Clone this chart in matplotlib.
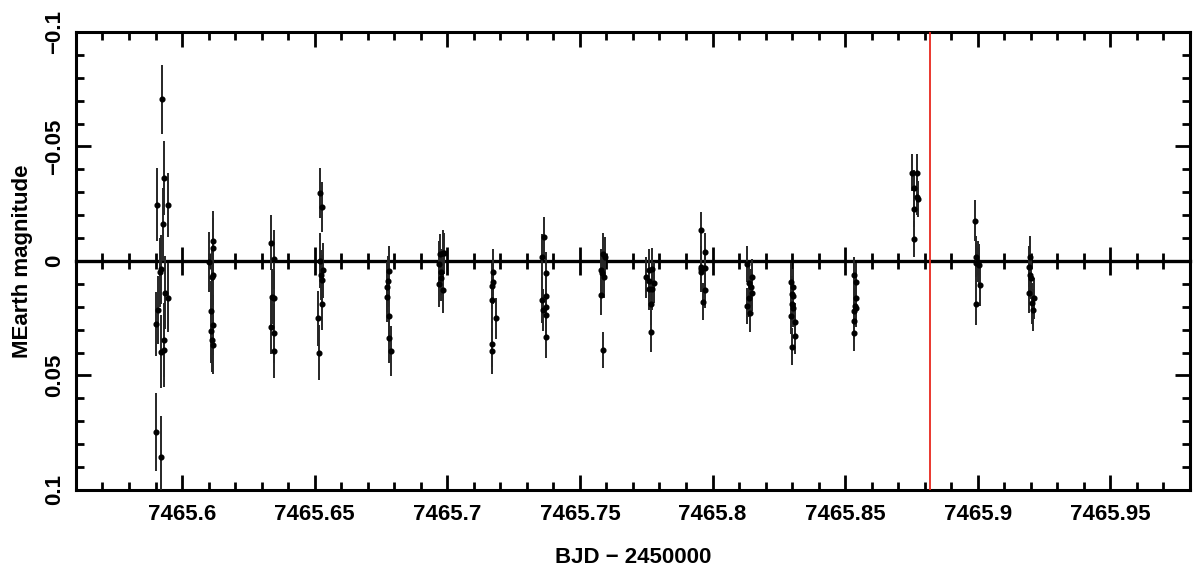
import matplotlib
matplotlib.use("Agg")
import matplotlib.pyplot as plt
from matplotlib.ticker import MultipleLocator, NullFormatter, FuncFormatter

plt.rcParams['font.family'] = ['Liberation Sans', 'DejaVu Sans']
plt.rcParams['font.weight'] = 'bold'

# MEarth light curve, one list entry per frame (grouped by visit)
bjd = [7465.5926, 7465.5905, 7465.5933, 7465.5946, 7465.5930, 7465.5920, 7465.5917, 7465.5909,
       7465.5902, 7465.5935, 7465.5946, 7465.5931, 7465.5920, 7465.5933, 7465.5902, 7465.5920,
       7465.6118, 7465.6115, 7465.6100, 7465.6112, 7465.6118, 7465.6109, 7465.6118, 7465.6109,
       7465.6112, 7465.6118,
       7465.6337, 7465.6345, 7465.6338, 7465.6345, 7465.6337, 7465.6345, 7465.6345,
       7465.6519, 7465.6526, 7465.6519, 7465.6530, 7465.6525, 7465.6526, 7465.6529, 7465.6512,
       7465.6515,
       7465.6779, 7465.6776, 7465.6773, 7465.6772, 7465.6779, 7465.6782, 7465.6788,
       7465.6973, 7465.6982, 7465.6989, 7465.6970, 7465.6976, 7465.6976, 7465.6970, 7465.6985,
       7465.7174, 7465.7174, 7465.7167, 7465.7167, 7465.7183, 7465.7167, 7465.7167,
       7465.7365, 7465.7356, 7465.7372, 7465.7371, 7465.7356, 7465.7371, 7465.7361, 7465.7371,
       7465.7372,
       7465.7588, 7465.7594, 7465.7578, 7465.7584, 7465.7590, 7465.7578, 7465.7586,
       7465.7759, 7465.7770, 7465.7749, 7465.7762, 7465.7778, 7465.7759, 7465.7770, 7465.7767,
       7465.7768,
       7465.7956, 7465.7972, 7465.7958, 7465.7970, 7465.7955, 7465.7958, 7465.7972, 7465.7966,
       7465.8129, 7465.8148, 7465.8139, 7465.8145, 7465.8148, 7465.8139, 7465.8129, 7465.8142,
       7465.8296, 7465.8305, 7465.8298, 7465.8305, 7465.8301, 7465.8302, 7465.8296, 7465.8311,
       7465.8311, 7465.8301,
       7465.8533, 7465.8542, 7465.8542, 7465.8539, 7465.8542, 7465.8534, 7465.8534, 7465.8533,
       7465.8753, 7465.8770, 7465.8759, 7465.8770, 7465.8775, 7465.8759, 7465.8759,
       7465.8990, 7465.8992, 7465.9000, 7465.9003, 7465.8993, 7465.9010, 7465.8992,
       7465.9197, 7465.9194, 7465.9198, 7465.9201, 7465.9194, 7465.9213, 7465.9203, 7465.9207]

mag = [-0.0706, -0.0246, -0.0362, -0.0245, -0.0160, 0.0036, 0.0050, 0.0214,
       0.0275, 0.0138, 0.0160, 0.0345, 0.0396, 0.0390, 0.0747, 0.0857,
       -0.0089, -0.0058, 0.0005, 0.0071, 0.0061, 0.0217, 0.0280, 0.0306,
       0.0345, 0.0365,
       -0.0080, -0.0007, 0.0156, 0.0163, 0.0288, 0.0316, 0.0392,
       -0.0296, -0.0237, 0.0000, 0.0040, 0.0060, 0.0083, 0.0190, 0.0250,
       0.0400,
       0.0044, 0.0089, 0.0115, 0.0156, 0.0240, 0.0336, 0.0394,
       -0.0029, -0.0034, -0.0034, 0.0014, 0.0047, 0.0076, 0.0100, 0.0127,
       0.0047, 0.0090, 0.0108, 0.0170, 0.0250, 0.0362, 0.0394,
       -0.0103, -0.0019, 0.0051, 0.0151, 0.0170, 0.0202, 0.0214, 0.0236,
       0.0332,
       -0.0030, -0.0016, 0.0039, 0.0051, 0.0071, 0.0148, 0.0389,
       0.0039, 0.0035, 0.0071, 0.0087, 0.0095, 0.0124, 0.0124, 0.0188,
       0.0309,
       -0.0135, -0.0040, 0.0025, 0.0032, 0.0047, 0.0035, 0.0127, 0.0178,
       0.0013, 0.0071, 0.0097, 0.0115, 0.0138, 0.0163, 0.0197, 0.0228,
       0.0090, 0.0115, 0.0146, 0.0153, 0.0188, 0.0207, 0.0240, 0.0265,
       0.0328, 0.0374,
       0.0061, 0.0090, 0.0160, 0.0197, 0.0207, 0.0218, 0.0261, 0.0313,
       -0.0386, -0.0386, -0.0317, -0.0281, -0.0271, -0.0227, -0.0096,
       -0.0176, -0.0019, 0.0003, 0.0017, 0.0010, 0.0105, 0.0188,
       -0.0019, 0.0025, 0.0061, 0.0076, 0.0138, 0.0163, 0.0185, 0.0214]

mag_err = [0.015, 0.016, 0.016, 0.014, 0.016, 0.015, 0.015, 0.015,
           0.014, 0.016, 0.015, 0.016, 0.016, 0.016, 0.017, 0.018,
           0.013, 0.013, 0.013, 0.013, 0.013, 0.013, 0.013, 0.014,
           0.014, 0.013,
           0.012, 0.013, 0.012, 0.012, 0.012, 0.013, 0.012,
           0.011, 0.011, 0.012, 0.012, 0.011, 0.011, 0.011, 0.012,
           0.012,
           0.011, 0.011, 0.011, 0.011, 0.011, 0.011, 0.011,
           0.009, 0.010, 0.009, 0.010, 0.010, 0.010, 0.010, 0.010,
           0.010, 0.010, 0.010, 0.010, 0.009, 0.010, 0.010,
           0.009, 0.010, 0.009, 0.009, 0.010, 0.009, 0.009, 0.009,
           0.009,
           0.009, 0.009, 0.009, 0.009, 0.009, 0.009, 0.008,
           0.009, 0.009, 0.009, 0.009, 0.009, 0.009, 0.009, 0.009,
           0.009,
           0.008, 0.008, 0.009, 0.009, 0.009, 0.009, 0.008, 0.008,
           0.008, 0.008, 0.008, 0.008, 0.008, 0.008, 0.008, 0.008,
           0.008, 0.008, 0.008, 0.008, 0.008, 0.008, 0.008, 0.008,
           0.008, 0.008,
           0.008, 0.008, 0.008, 0.008, 0.008, 0.008, 0.008, 0.008,
           0.008, 0.008, 0.008, 0.008, 0.008, 0.008, 0.008,
           0.009, 0.009, 0.009, 0.009, 0.009, 0.009, 0.009,
           0.009, 0.009, 0.009, 0.009, 0.009, 0.009, 0.009, 0.009]

t_mark = 7465.882   # red marker line
xlim = (7465.56, 7465.98)
ylim = (0.1, -0.1)

fig = plt.figure(figsize=(12, 5.8), dpi=100)
ax = fig.add_axes([0.0633, 0.1552, 0.9283, 0.7897])

ax.errorbar(bjd, mag, yerr=mag_err, fmt='o', color='black', ms=3.4,
            ecolor='0.15', elinewidth=1.4, capsize=0, zorder=3)
ax.axvline(t_mark, color='#e8281e', lw=1.3, zorder=4)

ax.set_xlim(xlim)
ax.set_ylim(ylim)

ax.xaxis.set_major_locator(MultipleLocator(0.05))
ax.xaxis.set_minor_locator(MultipleLocator(0.01))
ax.yaxis.set_major_locator(MultipleLocator(0.05))
ax.yaxis.set_minor_locator(MultipleLocator(0.01))
ax.xaxis.set_major_formatter(FuncFormatter(lambda v, p: ('%.2f' % v).rstrip('0')))
ax.yaxis.set_major_formatter(FuncFormatter(
    lambda v, p: '0' if abs(v) < 1e-9 else ('%.2f' % v).rstrip('0').replace('-', '\u2212')))

for s in ax.spines.values():
    s.set_linewidth(2.2)
ax.tick_params(which='both', direction='in', top=True, right=True, width=2, labelsize=16)
ax.tick_params(which='major', length=11)
ax.tick_params(which='minor', length=6)
ax.tick_params(axis='x', pad=10)
ax.tick_params(axis='y', pad=8)
for lab in ax.get_yticklabels():
    lab.set_rotation(90)
    lab.set_va('center')

# zero line with its own ticks
zero = ax.secondary_xaxis(0.5)
for s in zero.spines.values():
    s.set_linewidth(2.4)
zero.xaxis.set_major_locator(MultipleLocator(0.05))
zero.xaxis.set_minor_locator(MultipleLocator(0.01))
zero.xaxis.set_major_formatter(NullFormatter())
zero.xaxis.set_minor_formatter(NullFormatter())
zero.tick_params(which='both', direction='inout', width=2,
                 labelbottom=False, labeltop=False)
zero.tick_params(which='major', length=20)
zero.tick_params(which='minor', length=12)

ax.set_xlabel('BJD \u2212 2450000', fontsize=16, fontweight='bold', labelpad=16)
ax.set_ylabel('MEarth magnitude', fontsize=16, fontweight='bold', labelpad=8)

fig.savefig('out.png', dpi=100)
